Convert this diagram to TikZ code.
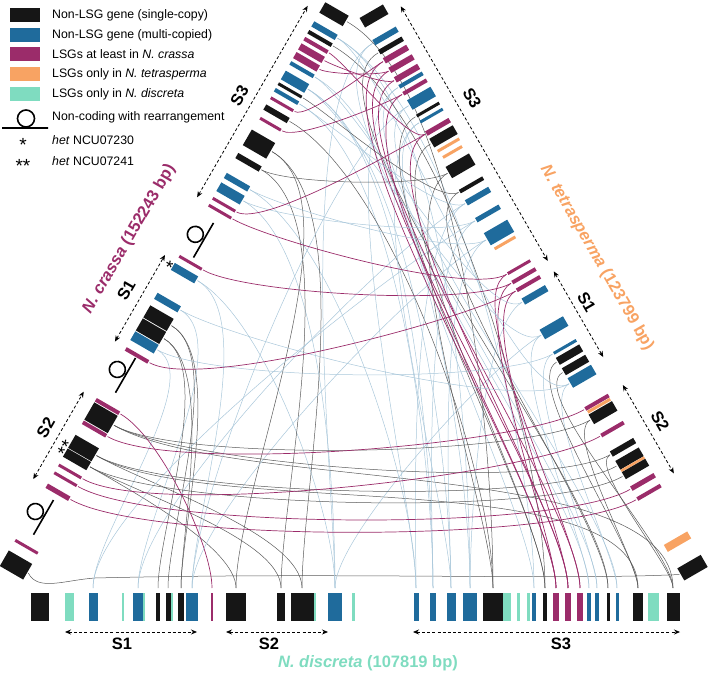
\documentclass[tikz,border=0pt]{standalone}
\usepackage{fontspec}
\setmainfont{Liberation Sans}
\usetikzlibrary{arrows.meta,positioning}

\definecolor{gblack}{HTML}{161616}
\definecolor{gblue}{HTML}{1F6B9C}
\definecolor{gplum}{HTML}{9B2C6A}
\definecolor{gorange}{HTML}{F8A363}
\definecolor{gteal}{HTML}{7FDCC0}
\definecolor{lnblue}{HTML}{A9C7DA}
\definecolor{lngrey}{HTML}{5A5A5A}

\pgfdeclarelayer{links}
\pgfsetlayers{links,main}

\tikzset{
  gene/.style={rectangle, draw=none, inner sep=0pt, outer sep=0pt},
  legbox/.style={gene, minimum width=30pt, minimum height=14pt},
  legtext/.style={anchor=west, inner sep=0pt, font=\fontsize{12.3}{14}\selectfont},
  hetmark/.style={inner sep=0pt, font=\fontsize{19}{19}\selectfont},
  segarrow/.style={dash pattern=on 3pt off 2.2pt, line width=0.8pt,
    {Stealth[length=6pt,width=5pt]}-{Stealth[length=6pt,width=5pt]}},
  seglabel/.style={font=\bfseries\fontsize{16.5}{16.5}\selectfont},
  spname/.style={font=\bfseries\fontsize{16.5}{17}\selectfont},
  loopline/.style={line width=1.6pt},
  glink/.style={line width=0.5pt, shorten <=1.5pt, shorten >=1.5pt},
  lb/.style={glink, lnblue},
  lg/.style={glink, lngrey},
  lm/.style={glink, gplum, line width=0.7pt},
}

\begin{document}
\begin{tikzpicture}[x=1pt, y=1pt]
\useasboundingbox (0,0) rectangle (709,675);

% legend
\foreach \c/\y/\txt [count=\i] in {gblack/15/{Non-LSG gene (single-copy)},
    gblue/35/{Non-LSG gene (multi-copied)}, gplum/54/{LSGs at least in \textit{N. crassa}},
    gorange/74/{LSGs only in \textit{N. tetrasperma}}, gteal/94/{LSGs only in \textit{N. discreta}}} {
  \node[legbox, fill=\c] (key\i) at (25,675-\y) {};
  \node[legtext, right=12pt of key\i] (keytext\i) {\txt};
}
\draw[loopline] (2,547) -- (48,547) (26,556.5) circle (8.5pt);
\node[legtext] (keyloop) at (52,558) {Non-coding with rearrangement};
\node[hetmark] (keystar) at (23,530) {*};
\node[legtext] (keyhet1) at (52,535) {\textit{het} NCU07230};
\node[hetmark] (keystars) at (23,509) {**};
\node[legtext] (keyhet2) at (52,514) {\textit{het} NCU07241};

% N. crassa
\begin{scope}[shift={(16,110)}, rotate=60, transform shape]
  \foreach \n/\t/\w/\h/\c in {1/0/18/27/gblack, 2/21/3/26/gplum, 3/84/5/26/gplum,
      4/99/3/26/gplum, 5/108/3/26/gplum, 6/122/9.5/27/gblack, 7/135/15/27/gblack,
      8/157/4/27/gplum, 9/170/20/27/gblack, 10/183/4/27/gplum, 11/242/4/26/gplum,
      12/257/10/27/gblue, 13/270/14/27/gblack, 14/285/14/27/gblack, 15/303/7/27/gblue,
      16/337/8/27/gblue, 17/349/3/26/gplum, 18/408/3/26/gplum, 19/416/3/26/gplum,
      20/429/10/27/gblue, 21/442/6/27/gblue, 22/465/6/27/gblack, 23/486/18/27/gblack,
      24/509/3/24/gplum, 25/521/6/27/gblack, 26/532/3/26/gplum, 27/541/4/27/gblue,
      28/548/3/27/gblack, 29/558/10/27/gblue, 30/572/4/27/gblue, 31/581/7/27/gplum,
      32/591/7/27/gplum, 33/600/4/27/gplum, 34/608/4/27/gblack, 35/617/6/27/gblue,
      36/636/12/27/gblack}
    \node[gene, fill=\c, minimum width=\w pt, minimum height=\h pt] (L\n) at (\t,0) {};
  \foreach \t in {55,219,375}
    \draw[loopline] (\t-20,0) -- (\t+20,0) (\t+1,10) circle (8pt);
  \draw[segarrow] (83,28) -- (184,28);
  \draw[segarrow] (243,26) -- (343,26);
  \draw[segarrow] (409,27) -- (630,27);
  \node[seglabel] (lS2) at (134,43) {S2};
  \node[seglabel] (lS1) at (293,42) {S1};
  \node[seglabel] (lS3) at (518,41) {S3};
  \node[hetmark] (lhet1) at (337,14) {*};
  \node[hetmark] (lhet2) at (126,15) {**};
  \node[spname, gplum] (crassa) at (339,65) {\textit{N. crassa} (152243 bp)};
\end{scope}

% N. tetrasperma
\begin{scope}[shift={(374,659)}, rotate=-60, transform shape]
  \foreach \n/\t/\w/\h/\c in {1/0/11/27/gblack, 2/23/6/27/gblue, 3/34/5/27/gblack,
      4/44/6/27/gplum, 5/55/6/27/gplum, 6/66/6/27/gplum, 7/74/4/27/gblue, 8/82/4/27/gplum,
      9/95/11/27/gblue, 10/108/3/26/gblack, 11/115/3/26/gblue, 12/128/5/27/gplum,
      13/139/10/27/gblack, 14/149/3/25/gorange, 15/157/3/22/gorange, 16/173/13/27/gblack,
      17/195/4/27/gblack, 18/208/6/27/gblue, 19/228/5/27/gblue, 20/250/14/27/gblue,
      21/262/3/24/gorange, 22/290/3/26/gplum, 23/300/4/27/gplum, 24/309/4/27/gplum,
      25/322/7/27/gblue, 26/360/11/27/gblue, 27/382/3/26/gblue, 28/391/8/27/gblack,
      29/403/8/27/gblack, 30/416/11/27/gblue, 31/446/4/27/gplum, 32/450/3/26/gorange,
      33/458/11/27/gblack, 34/477/4/26/gplum, 35/498/6/27/gblack, 36/511/10/27/gblack,
      37/517.5/2.5/27/gorange, 38/523/8/27/gblack, 39/538/5/27/gplum, 40/550/4/27/gplum,
      41/607/8/27/gorange, 42/637/14/27/gblack}
    \node[gene, fill=\c, minimum width=\w pt, minimum height=\h pt] (R\n) at (\t,0) {};
  \draw[segarrow] (5,28) -- (299,28);
  \draw[segarrow] (311,28) -- (410,28);
  \draw[segarrow] (444,31) -- (546,31);
  \node[seglabel] (rS3) at (120,44) {S3};
  \node[seglabel] (rS1) at (354,41) {S1};
  \node[seglabel] (rS2) at (494,45) {S2};
  \node[spname, gorange] (tetrasperma) at (321,72) {\textit{N. tetrasperma} (123799 bp)};
\end{scope}

% N. discreta
\begin{scope}[shift={(0,68)}]
  \foreach \n/\x/\w/\c in {1/40/18/gblack, 2/69/9/gteal, 3/93/9/gblue, 4/123/2/gteal,
      5/138/10/gblue, 6/144/2/gteal, 7/158/4/gblack, 8/168/5/gblack, 9/172/2/gteal,
      10/181/6/gblack, 11/192/12/gblue, 12/212/1.5/gplum, 13/236/20/gblack, 14/281/8/gblack,
      15/302/23/gblack, 16/315/2/gteal, 17/335/14/gblue, 18/353/3/gteal, 19/416/5/gblue,
      20/433/6/gblue, 21/451/9/gblue, 22/470/14/gblue, 23/493/20/gblack, 24/507/8/gteal,
      25/518/3/gteal, 26/528/3/gteal, 27/534/4/gblue, 28/545/4/gblack, 29/556/6/gplum,
      30/568/6/gplum, 31/580/6/gplum, 32/589/4/gblue, 33/597/4/gblue, 34/608/3/gblack,
      35/617/3/gblue, 36/638/10/gblack, 37/653/11/gteal, 38/673/13/gblack}
    \node[gene, fill=\c, minimum width=\w pt, minimum height=28pt] (B\n) at (\x,0) {};
  \draw[segarrow] (65,-25) -- (197,-25);
  \draw[segarrow] (226,-25) -- (328,-25);
  \draw[segarrow] (413,-25) -- (680,-25);
  \node[seglabel] (bS1) at (122,-37) {S1};
  \node[seglabel] (bS2) at (269,-37) {S2};
  \node[seglabel] (bS3) at (561,-37) {S3};
  \node[spname, gteal] (discreta) at (368,-56) {\textit{N. discreta} (107819 bp)};
\end{scope}

% syntenic links
\begin{pgfonlayer}{links}
  \draw[lg] (L1.south) .. controls +(10,-20) and +(-30,-2) .. (95,97)
    .. controls +(250,6) and +(-120,-6) .. (R42.south);
  % crassa - discreta
  \foreach \a/\b/\s in {12/3/lb, 15/5/lb, 16/11/lb, 16/17/lb, 20/17/lb, 21/19/lb,
      27/20/lb, 29/21/lb, 30/22/lb, 35/27/lb, 35/22/lb, 29/20/lb,
      13/7/lg, 14/8/lg, 14/10/lg, 13/10/lg, 22/14/lg, 23/15/lg, 23/13/lg, 6/13/lg,
      7/15/lg, 25/23/lg, 34/28/lg, 36/23/lg, 7/36/lg, 9/38/lg, 6/14/lg, 10/12/lm}
    \draw[\s, shorten >=5pt] (L\a.south) to[out=-30, in=90, looseness=0.6] (B\b.north);
  % tetrasperma - discreta
  \foreach \a/\b/\s in {2/32/lb, 7/33/lb, 9/35/lb, 11/27/lb, 18/19/lb, 19/20/lb,
      20/21/lb, 25/22/lb, 26/32/lb, 27/33/lb, 30/35/lb, 9/11/lb, 2/17/lb, 18/5/lb,
      19/3/lb, 20/11/lb, 26/17/lb, 7/19/lb, 11/21/lb,
      3/34/lg, 10/28/lg, 13/28/lg, 16/23/lg, 17/34/lg, 28/36/lg, 29/38/lg, 33/36/lg,
      35/38/lg, 4/29/lm, 5/30/lm, 6/31/lm, 8/29/lm, 12/30/lm, 22/31/lm, 23/29/lm, 24/30/lm}
    \draw[\s, shorten >=5pt] (R\a.south) to[out=-150, in=90, looseness=0.45] (B\b.north);
  % crassa - tetrasperma
  \foreach \a/\b/\s in {29/26/lb, 30/25/lb, 35/30/lb, 21/20/lb, 20/19/lb, 27/18/lb,
      12/27/lb, 15/30/lb, 6/38/lg, 7/36/lg, 9/33/lg, 9/35/lg, 22/16/lg, 28/17/lg,
      3/40/lm, 4/39/lm, 5/34/lm, 8/31/lm, 11/24/lm, 17/23/lm, 18/22/lm, 19/12/lm,
      24/8/lm, 26/4/lm, 31/5/lm, 32/6/lm, 33/12/lm}
    \draw[\s] (L\a.south) to[out=-30, in=-150, looseness=0.4] (R\b.south);
\end{pgfonlayer}
\end{tikzpicture}
\end{document}
